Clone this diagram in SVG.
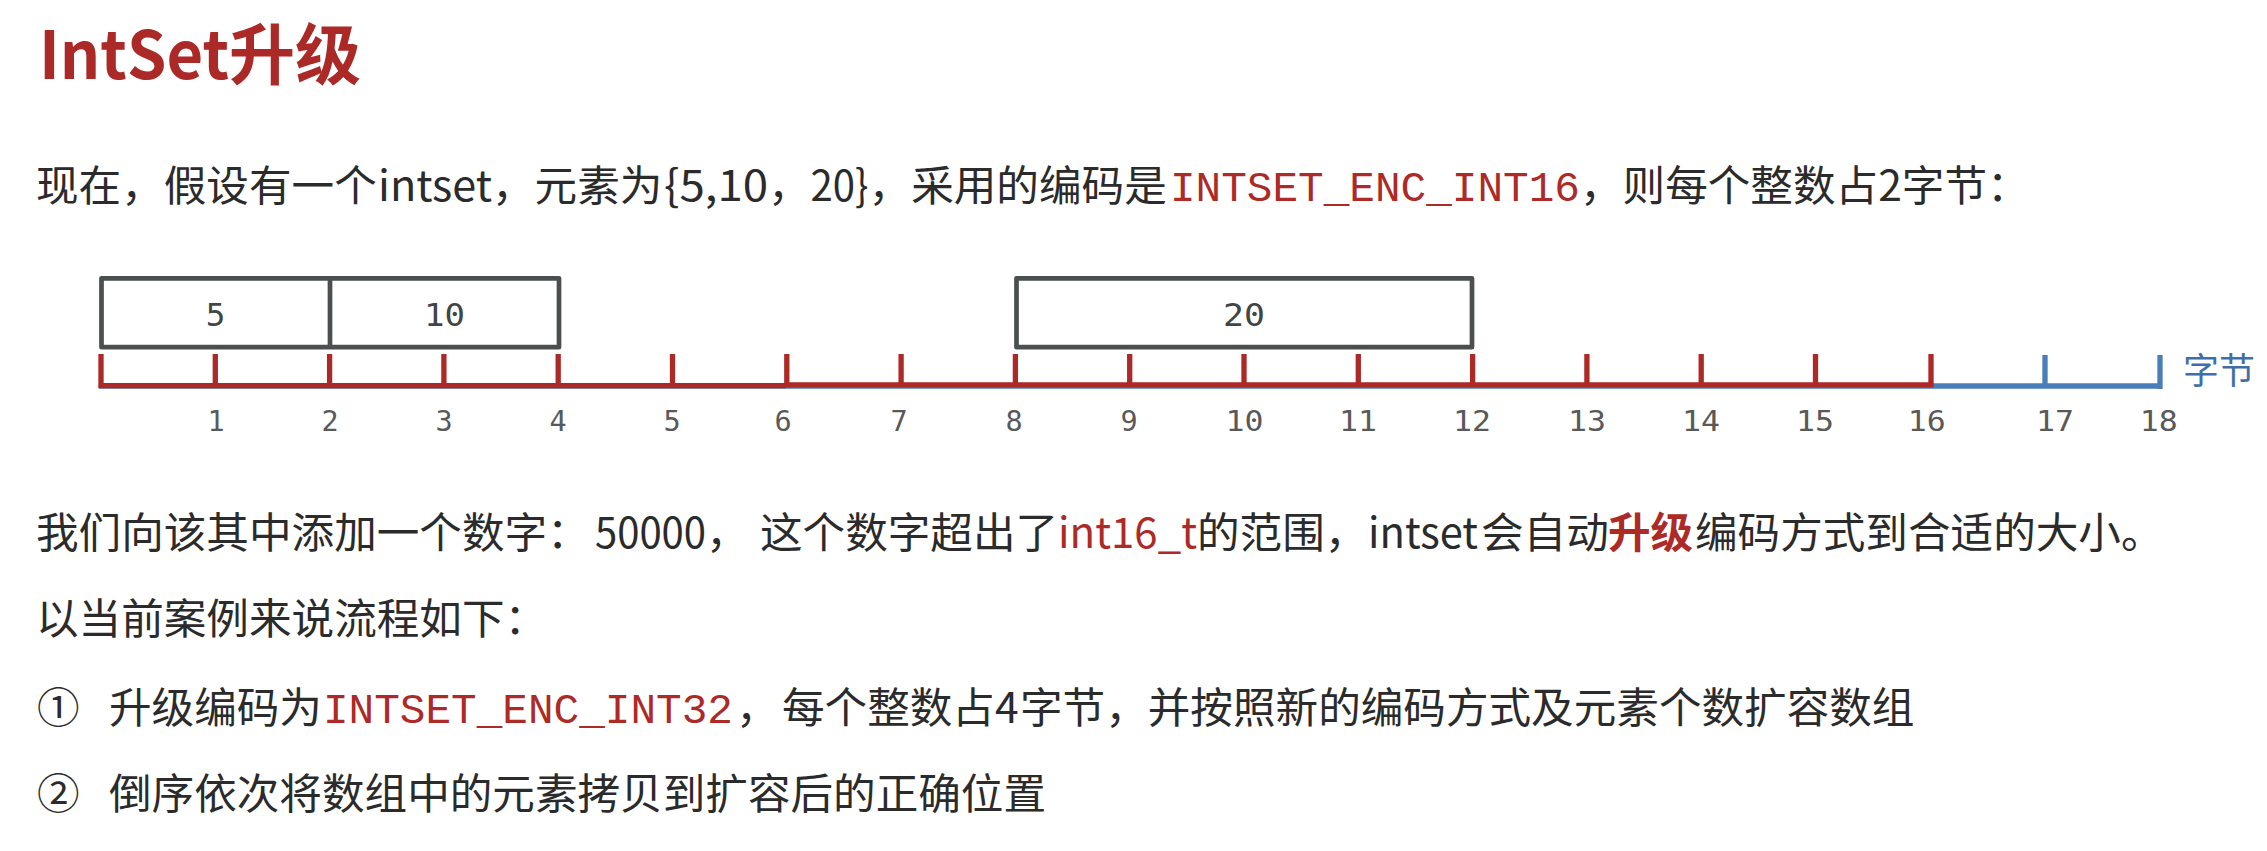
<svg xmlns="http://www.w3.org/2000/svg" width="2267" height="851" viewBox="0 0 2267 851">
<style>
.body{font-family:"Noto Sans CJK SC","Noto Sans",sans-serif;font-size:42.6px;fill:#2b2b2b}
.red{fill:#ad2a27}
.mono{font-family:"Liberation Mono",monospace;font-size:42.6px;fill:#ad2a27}
.box{fill:none;stroke:#4b4f50;stroke-width:4.7;stroke-linejoin:round}
.val{font-family:"DejaVu Sans Mono",monospace;font-size:32.5px;fill:#414546;text-anchor:middle}
.lbl{font-family:"DejaVu Sans Mono",monospace;font-size:28.5px;fill:#595959;text-anchor:middle}
.tr{stroke:#ad2926;stroke-width:5.3;fill:none}
.tb{stroke:#4a7ebb;stroke-width:5.3;fill:none}
</style>
<rect width="2267" height="851" fill="#ffffff"/>
<g id="title">
<text x="39" y="79" style="font-family:'Noto Sans CJK SC',sans-serif;font-size:66px;font-weight:bold;fill:#ab2a27"><tspan textLength="190" lengthAdjust="spacingAndGlyphs">IntSet</tspan><tspan x="229">升级</tspan></text>
</g>
<g id="line1">
<text class="body" y="201"><tspan x="36">现在，假设有一个</tspan><tspan x="378" textLength="114" lengthAdjust="spacingAndGlyphs">intset</tspan><tspan x="492">，元素为</tspan><tspan x="664" textLength="104" lengthAdjust="spacingAndGlyphs">{5,10</tspan><tspan>，</tspan><tspan textLength="58" lengthAdjust="spacingAndGlyphs">20}</tspan><tspan>，采用的编码是</tspan></text>
<text class="mono" x="1170" y="201" textLength="410" lengthAdjust="spacingAndGlyphs">INTSET_ENC_INT16</text>
<text class="body" y="201"><tspan x="1580">，则每个整数占2字节：</tspan></text>
</g>
<g id="memory">
<g id="elements">
<path class="box" d="M101.5 278.3H559V347.2H101.5Z M330 278.3V347.2"/>
<rect class="box" x="1016.5" y="278.3" width="455.5" height="68.9"/>
<text class="val" x="215.5" y="325.5">5</text>
<text class="val" x="444.5" y="325.5" textLength="41" lengthAdjust="spacingAndGlyphs">10</text>
<text class="val" x="1244" y="325.5" textLength="42" lengthAdjust="spacingAndGlyphs">20</text>
</g>
<g id="axis">
<path class="tb" d="M99 386H2160 M2045 355V386 M2160 355V389"/>
<path class="tr" d="M98.3 385.7H786 M786 384.8H1933.7 M101 354V385 M215.3 354V385 M329.6 354V385 M443.9 354V385 M558.2 354V385 M672.5 354V385 M786.8 354V385 M901.1 354V385 M1015.4 354V385 M1129.7 354V385 M1244 354V385 M1358.3 354V385 M1472.6 354V385 M1586.9 354V385 M1701.2 354V385 M1815.5 354V385 M1931 354V385"/>
<text style="font-family:'Noto Sans CJK SC',sans-serif;font-size:36px;fill:#3f6fa8" x="2183" y="384">字节</text>
</g>
<g id="labels">
<text class="lbl" x="216" y="431">1</text>
<text class="lbl" x="330" y="431">2</text>
<text class="lbl" x="444" y="431">3</text>
<text class="lbl" x="558" y="431">4</text>
<text class="lbl" x="672" y="431">5</text>
<text class="lbl" x="783" y="431">6</text>
<text class="lbl" x="899" y="431">7</text>
<text class="lbl" x="1014" y="431">8</text>
<text class="lbl" x="1129" y="431">9</text>
<text class="lbl" x="1244.5" y="431" textLength="38" lengthAdjust="spacingAndGlyphs">10</text>
<text class="lbl" x="1358" y="431" textLength="38" lengthAdjust="spacingAndGlyphs">11</text>
<text class="lbl" x="1472" y="431" textLength="38" lengthAdjust="spacingAndGlyphs">12</text>
<text class="lbl" x="1587" y="431" textLength="38" lengthAdjust="spacingAndGlyphs">13</text>
<text class="lbl" x="1701" y="431" textLength="38" lengthAdjust="spacingAndGlyphs">14</text>
<text class="lbl" x="1815" y="431" textLength="38" lengthAdjust="spacingAndGlyphs">15</text>
<text class="lbl" x="1926.7" y="431" textLength="38" lengthAdjust="spacingAndGlyphs">16</text>
<text class="lbl" x="2055" y="431" textLength="38" lengthAdjust="spacingAndGlyphs">17</text>
<text class="lbl" x="2158.8" y="431" textLength="38" lengthAdjust="spacingAndGlyphs">18</text>
</g>
</g>
<g id="line2">
<text class="body" y="548"><tspan x="36">我们向该其中添加一个数字：</tspan><tspan x="595" textLength="111" lengthAdjust="spacingAndGlyphs">50000</tspan><tspan>，</tspan><tspan x="760">这个数字超出了</tspan><tspan x="1058" textLength="139" lengthAdjust="spacingAndGlyphs" class="red">int16_t</tspan><tspan x="1197">的范围，</tspan><tspan x="1368" textLength="110" lengthAdjust="spacingAndGlyphs">intset</tspan><tspan x="1481">会自动</tspan><tspan x="1608" class="red" font-weight="bold">升级</tspan><tspan x="1695">编码方式到合适的大小。</tspan></text>
</g>
<g id="line3">
<text class="body" x="36" y="634">以当前案例来说流程如下：</text>
</g>
<g id="line4">
<text class="body" y="723"><tspan x="37">①</tspan><tspan x="109">升级编码为</tspan></text>
<text class="mono" x="323" y="723" textLength="410" lengthAdjust="spacingAndGlyphs">INTSET_ENC_INT32</text>
<text class="body" y="723"><tspan x="736">，</tspan><tspan x="782">每个整数占</tspan><tspan x="995">4</tspan><tspan x="1020">字节，并按照新的编码方式及元素个数扩容数组</tspan></text>
</g>
<g id="line5">
<text class="body" y="809"><tspan x="37">②</tspan><tspan x="109">倒序依次将数组中的元素拷贝到扩容后的正确位置</tspan></text>
</g>
</svg>
